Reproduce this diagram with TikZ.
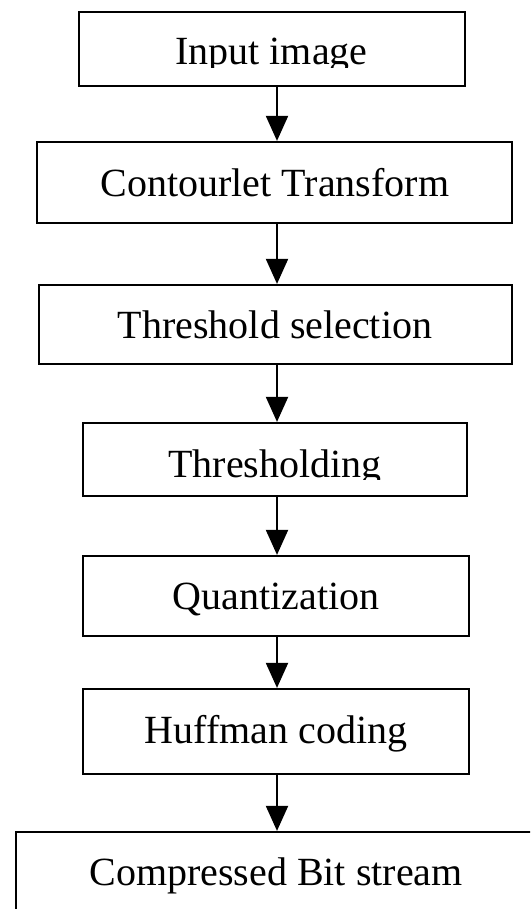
\documentclass[tikz,border=0pt]{standalone}
\usepackage{fontspec}
\setmainfont{Liberation Serif}
\usetikzlibrary{arrows.meta}
\begin{document}
\begin{tikzpicture}[x=1pt,y=1pt,
  box/.style={draw=black, line width=2.2pt, rectangle, inner sep=0pt},
  lbl/.style={anchor=base, inner sep=0pt, font=\fontsize{40}{48}\selectfont},
  arr/.style={draw=black, line width=2pt, -{Triangle[width=22pt,length=25pt]}}]
\useasboundingbox (0,0) rectangle (530,-909);
\clip (0,0) rectangle (530,-909);
% boxes
\node[box, minimum width=386pt, minimum height=74pt] (b1) at (272,-49) {};
\node[box, minimum width=475pt, minimum height=81pt] (b2) at (274.5,-182.5) {};
\node[box, minimum width=473pt, minimum height=79pt] (b3) at (275.5,-324.5) {};
\node[box, minimum width=384pt, minimum height=73pt] (b4) at (275,-459.5) {};
\node[box, minimum width=386pt, minimum height=80pt] (b5) at (276,-596) {};
\node[box, minimum width=386pt, minimum height=85pt] (b6) at (276,-731.5) {};
\node[box, minimum width=640pt, minimum height=100pt] (b7) at (336,-882) {};
% labels
\begin{scope}
\clip (80,-13) rectangle (464,-68);
\node[lbl] (t1) at (271.5,-65) {Input image};
\end{scope}
\node[lbl] (t2) at (275,-197) {Contourlet Transform};
\node[lbl] (t3) at (275,-338) {Threshold selection};
\begin{scope}
\clip (84,-424) rectangle (466,-479);
\node[lbl] (t4) at (275,-477) {Thresholding};
\end{scope}
\node[lbl] (t5) at (276,-609) {Quantization};
\node[lbl] (t6) at (276,-743) {Huffman coding};
\node[lbl] (t7) at (276,-885) {Compressed Bit stream};
% connectors
\coordinate (xc) at (277,0);
\draw[arr] (b1.south -| xc) -- (b2.north -| xc);
\draw[arr] (b2.south -| xc) -- (b3.north -| xc);
\draw[arr] (b3.south -| xc) -- (b4.north -| xc);
\draw[arr] (b4.south -| xc) -- (b5.north -| xc);
\draw[arr] (b5.south -| xc) -- (b6.north -| xc);
\draw[arr] (b6.south -| xc) -- (b7.north -| xc);
\end{tikzpicture}
\end{document}
